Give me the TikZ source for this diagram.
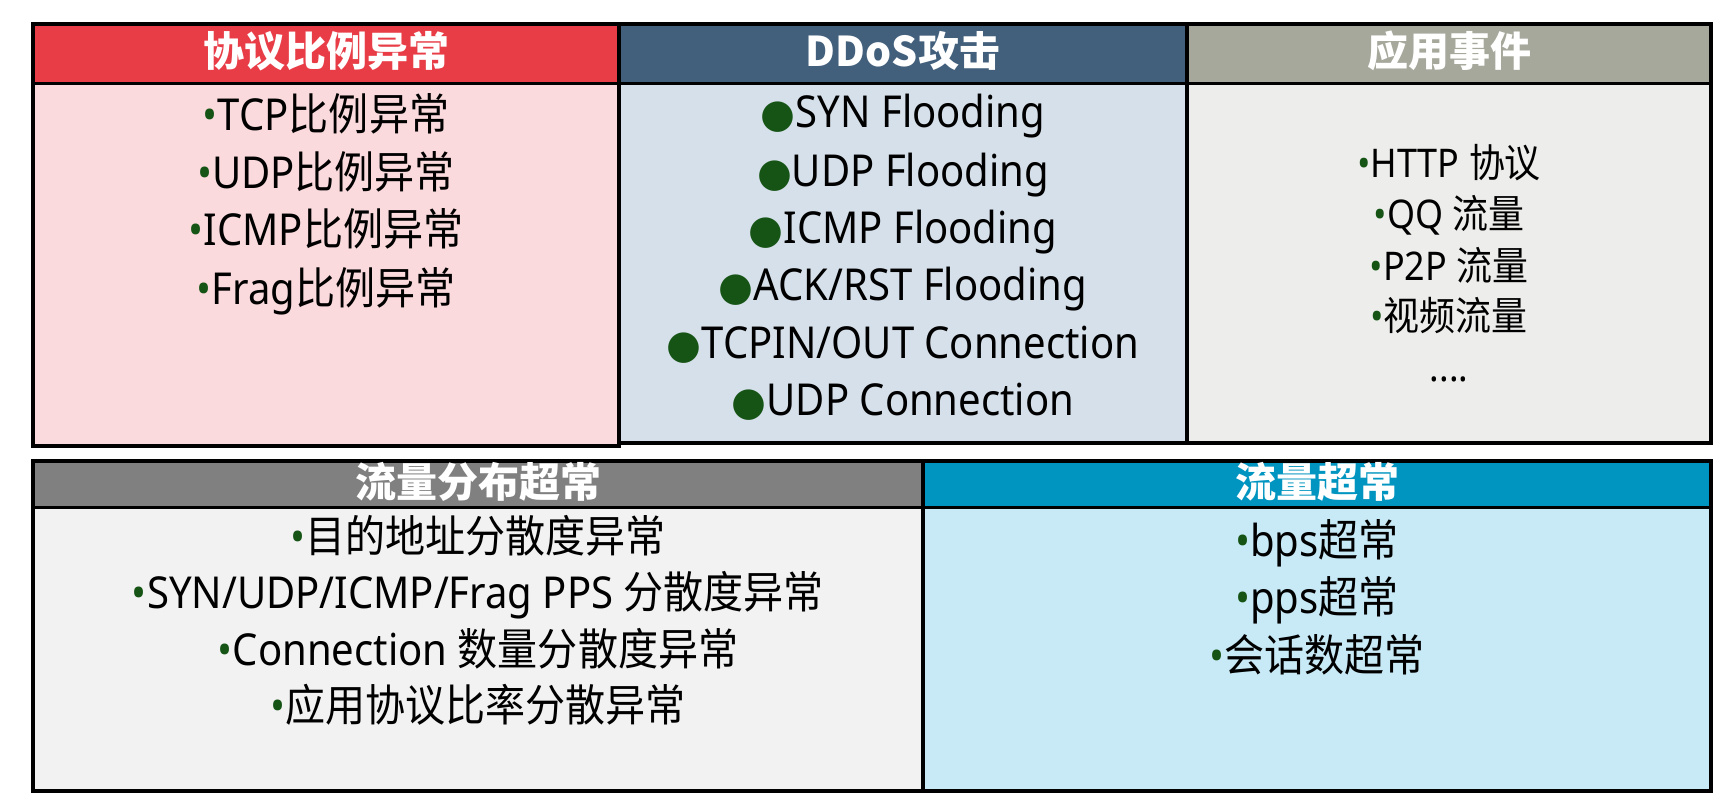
\documentclass[tikz,border=0pt]{standalone}
\usepackage{fontspec}
\setmainfont{Noto Sans}[FakeStretch=0.91]
\newfontfamily\cjk{Noto Sans CJK SC}[FakeStretch=0.91]
\newfontfamily\cjkhead{Noto Sans CJK SC}
\newfontfamily\dejavu{DejaVu Sans}
\definecolor{redH}{RGB}{232,60,70}
\definecolor{redB}{RGB}{250,218,220}
\definecolor{blueH}{RGB}{66,96,124}
\definecolor{blueB}{RGB}{214,224,234}
\definecolor{greyH}{RGB}{166,168,156}
\definecolor{greyB}{RGB}{237,237,235}
\definecolor{dgreyH}{RGB}{128,128,128}
\definecolor{dgreyB}{RGB}{242,242,242}
\definecolor{cyanH}{RGB}{0,149,192}
\definecolor{cyanB}{RGB}{200,234,246}
\definecolor{bulgreen}{RGB}{22,84,22}
\newcommand\mybul{{\color{bulgreen}•}}
\newcommand\bigbul{{\color{bulgreen}\dejavu\fontsize{40}{40}\selectfont ●}}
\tikzset{
  outline/.style={draw=black, line width=3.5pt},
  sepline/.style={draw=black, line width=3pt},
  hdr/.style={font=\cjkhead\bfseries\fontsize{41}{44}\selectfont, text=white, inner sep=0pt, text height=32pt, text depth=5pt},
  item/.style={font=\fontsize{44}{48}\selectfont, text=black, inner sep=0pt, text height=36pt, text depth=6pt},
  appitem/.style={item, font=\fontsize{39.5}{44}\selectfont, text height=32pt, text depth=5pt},
}
\begin{document}
\begin{tikzpicture}[x=1pt,y=-1pt]
\useasboundingbox (0,0) rectangle (1728,804);
\fill[white] (0,0) rectangle (1728,804);
% fills
\fill[redB] (33,83) rectangle (619,446);
\fill[redH] (33,24) rectangle (619,83);
\fill[blueB] (619,83) rectangle (1187,443);
\fill[blueH] (619,24) rectangle (1187,83);
\fill[greyB] (1187,83) rectangle (1711,443);
\fill[greyH] (1187,24) rectangle (1711,83);
\fill[dgreyB] (33,507) rectangle (923,791);
\fill[dgreyH] (33,461) rectangle (923,507);
\fill[cyanB] (923,507) rectangle (1711,791);
\fill[cyanH] (923,461) rectangle (1711,507);
% separators
\draw[sepline] (33,83) -- (1711,83);
\draw[sepline] (33,507) -- (1711,507);
% outlines
\draw[outline] (33,24) rectangle (619,446);
\draw[outline] (619,24) rectangle (1187,443);
\draw[outline] (1187,24) rectangle (1711,443);
\draw[outline] (33,461) rectangle (923,791);
\draw[outline] (923,461) rectangle (1711,791);
% headers
\node[hdr] (h1) at (326,53) {协议比例异常};
\node[hdr] (h2) at (903,53) {DDoS攻击};
\node[hdr] (h3) at (1449,53) {应用事件};
\node[hdr] (h4) at (478,484) {流量分布超常};
\node[hdr] (h5) at (1317,484) {流量超常};
% panel 1
\node[item] (a1) at (326,115) {\mybul TCP{\cjk 比例异常}};
\node[item] (a2) at (326,173) {\mybul UDP{\cjk 比例异常}};
\node[item] (a3) at (326,230) {\mybul ICMP{\cjk 比例异常}};
\node[item] (a4) at (326,289) {\mybul Frag{\cjk 比例异常}};
% panel 2
\node[item] (b1) at (903,112) {\bigbul SYN Flooding};
\node[item] (b2) at (903,171) {\bigbul UDP Flooding};
\node[item] (b3) at (903,228) {\bigbul ICMP Flooding};
\node[item] (b4) at (903,285) {\bigbul ACK/RST Flooding};
\node[item] (b5) at (903,343) {\bigbul TCPIN/OUT Connection};
\node[item] (b6) at (903,400) {\bigbul UDP Connection};
% panel 3
\node[appitem] (c1) at (1449,164) {\mybul HTTP {\cjk 协议}};
\node[appitem] (c2) at (1449,215) {\mybul QQ {\cjk 流量}};
\node[appitem] (c3) at (1449,267) {\mybul P2P {\cjk 流量}};
\node[appitem] (c4) at (1449,317) {\mybul{\cjk 视频流量}};
\node[appitem] (c5) at (1449,368) {....};
% panel 4
\node[item] (d1) at (478,537) {\mybul{\cjk 目的地址分散度异常}};
\node[item] (d2) at (478,593) {\mybul SYN/UDP/ICMP/Frag PPS {\cjk 分散度异常}};
\node[item] (d3) at (478,650) {\mybul Connection {\cjk 数量分散度异常}};
\node[item] (d4) at (478,706) {\mybul{\cjk 应用协议比率分散异常}};
% panel 5
\node[item] (e1) at (1317,541) {\mybul bps{\cjk 超常}};
\node[item] (e2) at (1317,598) {\mybul pps{\cjk 超常}};
\node[item] (e3) at (1317,656) {\mybul{\cjk 会话数超常}};
\end{tikzpicture}
\end{document}
